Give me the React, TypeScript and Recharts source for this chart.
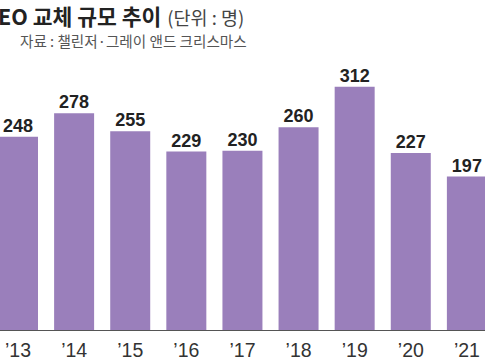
import { Bar, BarChart, LabelList, XAxis, YAxis } from 'recharts';

const years = ['’13', '’14', '’15', '’16', '’17', '’18', '’19', '’20', '’21'];
const ceoChanges = [248, 278, 255, 229, 230, 260, 312, 227, 197];

const data = years.map((year, i) => ({ year, count: ceoChanges[i] }));

const App = () => (
  <div style={{ position: 'fixed', left: 0, top: 0, width: 485, height: 360, overflow: 'hidden', background: '#fff' }}>
    <div style={{ position: 'absolute', left: -10, top: 0 }}>
      <BarChart width={505} height={360} data={data} margin={{ top: 57, right: 0, bottom: 0, left: 0 }}>
        <XAxis
          dataKey='year'
          height={29.5}
          axisLine={{ stroke: '#555', strokeWidth: 1.2 }}
          tickLine={false}
          tickMargin={7}
          interval={0}
          tick={{ fill: '#333', fontSize: 19.5, fontFamily: '"Liberation Sans Narrow", "Liberation Sans", sans-serif' }}
        />
        <YAxis hide domain={[0, 350]} />
        <Bar dataKey='count' fill='#9a7fbb' barSize={40} isAnimationActive={false}>
          <LabelList
            dataKey='count'
            position='top'
            offset={5}
            fill='#222'
            fontSize={18}
            fontWeight='bold'
            fontFamily='"Liberation Sans", Arial, sans-serif'
          />
        </Bar>
      </BarChart>
    </div>
    <svg width={485} height={60} style={{ position: 'absolute', left: 0, top: 0 }}>
      <text x={-16} y={25} fontSize={21.5} fontWeight='bold' fill='#222' fontFamily='"Noto Sans CJK KR", sans-serif'>
        CEO 교체 규모 추이
        <tspan dx={6} fontSize={18.5} fontWeight='normal' fill='#444'>(단위 : 명)</tspan>
      </text>
      <text x={20} y={47} fontSize={14.6} fill='#555' fontFamily='"Noto Sans CJK KR", sans-serif'>
        자료 : 챌린저·그레이 앤드 크리스마스
      </text>
    </svg>
  </div>
);

export default App;
